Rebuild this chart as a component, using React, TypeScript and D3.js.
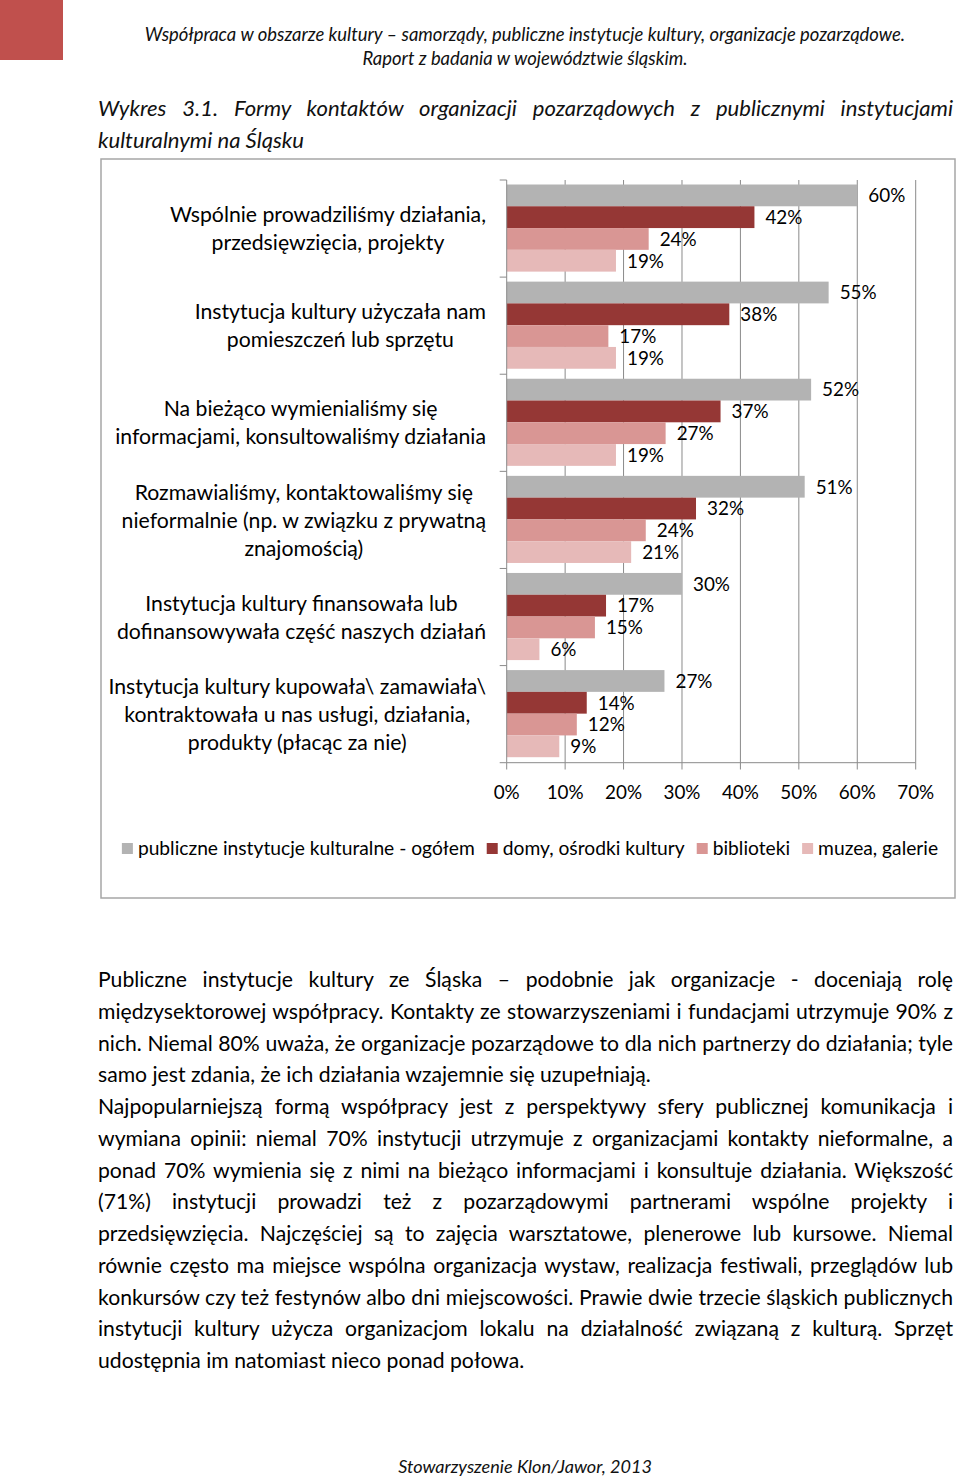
import React, { useEffect, useRef } from 'react';
import * as d3 from 'd3';

const categoryLines: string[][] = [
  ['Wspólnie prowadziliśmy działania,', 'przedsięwzięcia, projekty'],
  ['Instytucja kultury użyczała nam', 'pomieszczeń lub sprzętu'],
  ['Na bieżąco wymienialiśmy się', 'informacjami, konsultowaliśmy działania'],
  ['Rozmawialiśmy, kontaktowaliśmy się', 'nieformalnie (np. w związku z prywatną', 'znajomością)'],
  ['Instytucja kultury finansowała lub', 'dofinansowywała część naszych działań'],
  ['Instytucja kultury kupowała\\ zamawiała\\', 'kontraktowała u nas usługi, działania,', 'produkty (płacąc za nie)'],
];
const seriesNames = ['publiczne instytucje kulturalne - ogółem', 'domy, ośrodki kultury', 'biblioteki', 'muzea, galerie'];
const ogolem = [60, 55.1, 52.1, 51, 30, 27];
const domy = [42.4, 38.1, 36.6, 32.4, 17, 13.7];
const biblioteki = [24.3, 17.4, 27.2, 23.8, 15.1, 12];
const muzea = [18.7, 18.7, 18.7, 21.3, 5.6, 9];
const xTicks = [0, 10, 20, 30, 40, 50, 60, 70];
const seriesColors = ['#b3b3b3', '#953735', '#d99694', '#e6b9b8'];

const headerLines = [
  'Współpraca w obszarze kultury – samorządy, publiczne instytucje kultury, organizacje pozarządowe.',
  'Raport z badania w województwie śląskim.',
];
const titleLines = [
  'Wykres 3.1. Formy kontaktów organizacji pozarządowych z publicznymi instytucjami',
  'kulturalnymi na Śląsku',
];
// [text, justified]
const paragraphLines: [string, boolean][] = [
  ['Publiczne instytucje kultury ze Śląska – podobnie jak organizacje - doceniają rolę', true],
  ['międzysektorowej współpracy. Kontakty ze stowarzyszeniami i fundacjami utrzymuje 90% z', true],
  ['nich. Niemal 80% uważa, że organizacje pozarządowe to dla nich partnerzy do działania; tyle', true],
  ['samo jest zdania, że ich działania wzajemnie się uzupełniają.', false],
  ['Najpopularniejszą formą współpracy jest z perspektywy sfery publicznej komunikacja i', true],
  ['wymiana opinii: niemal 70% instytucji utrzymuje z organizacjami kontakty nieformalne, a', true],
  ['ponad 70% wymienia się z nimi na bieżąco informacjami i konsultuje działania. Większość', true],
  ['(71%) instytucji prowadzi też z pozarządowymi partnerami wspólne projekty i', true],
  ['przedsięwzięcia. Najczęściej są to zajęcia warsztatowe, plenerowe lub kursowe. Niemal', true],
  ['równie często ma miejsce wspólna organizacja wystaw, realizacja festiwali, przeglądów lub', true],
  ['konkursów czy też festynów albo dni miejscowości. Prawie dwie trzecie śląskich publicznych', true],
  ['instytucji kultury użycza organizacjom lokalu na działalność związaną z kulturą. Sprzęt', true],
  ['udostępnia im natomiast nieco ponad połowa.', false],
];
const footerText = 'Stowarzyszenie Klon/Jawor, 2013';

const FONT = 'Lato, "Open Sans", "Liberation Sans", sans-serif';

export default function App() {
  const ref = useRef<SVGSVGElement>(null);

  useEffect(() => {
    const svg = d3.select(ref.current);
    svg.selectAll('*').remove();

    const measure = (text: string, size: number, italic = false) => {
      const t = svg.append('text').attr('font-family', FONT).attr('font-size', size)
        .attr('font-style', italic ? 'italic' : 'normal').text(text);
      const w = (t.node() as SVGTextElement).getComputedTextLength();
      t.remove();
      return w;
    };
    const fit = (text: string, target: number, italic = false) => (100 * target) / measure(text, 100, italic);

    // header
    svg.append('rect').attr('x', 0).attr('y', 0).attr('width', 63).attr('height', 60).attr('fill', '#c0504d');
    const hSize = fit(headerLines[0], 761, true);
    headerLines.forEach((l, i) => {
      svg.append('text').attr('x', 525).attr('y', 41 + i * 24).attr('text-anchor', 'middle')
        .attr('font-family', FONT).attr('font-style', 'italic').attr('font-size', hSize)
        .attr('fill', '#111').text(l);
    });

    // title
    const tSize = fit(titleLines[1], 206, true);
    titleLines.forEach((l, i) => {
      const t = svg.append('text').attr('x', 98).attr('y', 116 + i * 32)
        .attr('font-family', FONT).attr('font-style', 'italic').attr('font-size', tSize)
        .attr('fill', '#111').text(l);
      if (i === 0) {
        const w = (t.node() as SVGTextElement).getComputedTextLength();
        const n = l.split(' ').length - 1;
        t.attr('word-spacing', (855 - w) / n);
      }
    });

    // chart box
    svg.append('rect').attr('x', 101).attr('y', 159).attr('width', 854).attr('height', 739)
      .attr('fill', 'none').attr('stroke', '#a6a6a6').attr('stroke-width', 1.5);

    const x = d3.scaleLinear().domain([0, 70]).range([506.7, 915.7]);
    const y = d3.scaleBand<number>().domain(d3.range(categoryLines.length)).range([180, 762.7]).padding(0);
    const bw = y.bandwidth();
    const inner = d3.scaleBand<number>().domain([0, 1, 2, 3]).range([4.5, bw - 5.5]).padding(0);
    const series = [ogolem, domy, biblioteki, muzea];

    const grid = svg.append('g');
    xTicks.filter((d) => d > 0).forEach((d) => {
      grid.append('line').attr('x1', x(d)).attr('x2', x(d)).attr('y1', 180).attr('y2', 762.7)
        .attr('stroke', '#8a8a8a').attr('stroke-width', 1);
    });

    const valSize = fit('70%', 37);
    series.forEach((vals, si) => {
      vals.forEach((v, ci) => {
        const y0 = (y(ci) as number) + (inner(si) as number);
        svg.append('rect').attr('x', x(0)).attr('y', y0).attr('width', x(v) - x(0))
          .attr('height', inner.bandwidth()).attr('fill', seriesColors[si]);
        svg.append('text').attr('x', x(v) + 11).attr('y', y0 + inner.bandwidth() / 2)
          .attr('dy', '0.36em').attr('font-family', FONT).attr('font-size', valSize)
          .attr('fill', '#000').text(`${Math.round(v)}%`);
      });
    });

    // axes
    const ax = svg.append('g').attr('stroke', '#8a8a8a').attr('stroke-width', 1);
    ax.append('line').attr('x1', x(0)).attr('x2', x(0)).attr('y1', 180).attr('y2', 762.7);
    d3.range(categoryLines.length + 1).forEach((i) => {
      const yy = i < categoryLines.length ? (y(i) as number) : 762.7;
      ax.append('line').attr('x1', x(0) - 7).attr('x2', x(0)).attr('y1', yy).attr('y2', yy);
    });
    ax.append('line').attr('x1', x(0)).attr('x2', x(70)).attr('y1', 762.7).attr('y2', 762.7);
    xTicks.forEach((d) => {
      ax.append('line').attr('x1', x(d)).attr('x2', x(d)).attr('y1', 762.7).attr('y2', 769.5);
      svg.append('text').attr('x', x(d)).attr('y', 799).attr('text-anchor', 'middle')
        .attr('font-family', FONT).attr('font-size', valSize).attr('fill', '#000').text(`${d}%`);
    });

    // category labels
    const cSize = fit('informacjami, konsultowaliśmy działania', 371);
    categoryLines.forEach((lines, ci) => {
      const maxW = d3.max(lines, (l) => measure(l, cSize)) as number;
      const cx = 486 - maxW / 2;
      const cy = (y(ci) as number) + bw / 2;
      lines.forEach((l, li) => {
        const ly = cy + (li - (lines.length - 1) / 2) * 28;
        svg.append('text').attr('x', cx).attr('y', ly).attr('dy', '0.36em').attr('text-anchor', 'middle')
          .attr('font-family', FONT).attr('font-size', cSize).attr('fill', '#000').text(l);
      });
    });

    // legend
    const lSize = fit(seriesNames[0], 337);
    const widths = seriesNames.map((n) => measure(n, lSize));
    const sq = 11, gap1 = 5, gap2 = 12;
    const total = d3.sum(widths) + seriesNames.length * (sq + gap1) + (seriesNames.length - 1) * gap2;
    let lx = 530 - total / 2;
    seriesNames.forEach((n, i) => {
      svg.append('rect').attr('x', lx).attr('y', 843).attr('width', sq).attr('height', sq).attr('fill', seriesColors[i]);
      lx += sq + gap1;
      svg.append('text').attr('x', lx).attr('y', 848.5).attr('dy', '0.36em')
        .attr('font-family', FONT).attr('font-size', lSize).attr('fill', '#000').text(n);
      lx += widths[i] + gap2;
    });

    // paragraph
    const pSize = fit(paragraphLines[3][0], 553);
    paragraphLines.forEach(([l, just], i) => {
      const t = svg.append('text').attr('x', 98).attr('y', 987 + i * 31.75)
        .attr('font-family', FONT).attr('font-size', pSize).attr('fill', '#000').text(l);
      if (just) {
        const w = (t.node() as SVGTextElement).getComputedTextLength();
        const n = l.split(' ').length - 1;
        t.attr('word-spacing', (855 - w) / n);
      }
    });

    // footer
    const fSize = fit(footerText, 254, true);
    svg.append('text').attr('x', 525).attr('y', 1473).attr('text-anchor', 'middle')
      .attr('font-family', FONT).attr('font-style', 'italic').attr('font-size', fSize)
      .attr('fill', '#111').text(footerText);
  }, []);

  return (
    <svg ref={ref} width={960} height={1478}
      style={{ position: 'absolute', left: 0, top: 0, background: '#fff' }} />
  );
}
